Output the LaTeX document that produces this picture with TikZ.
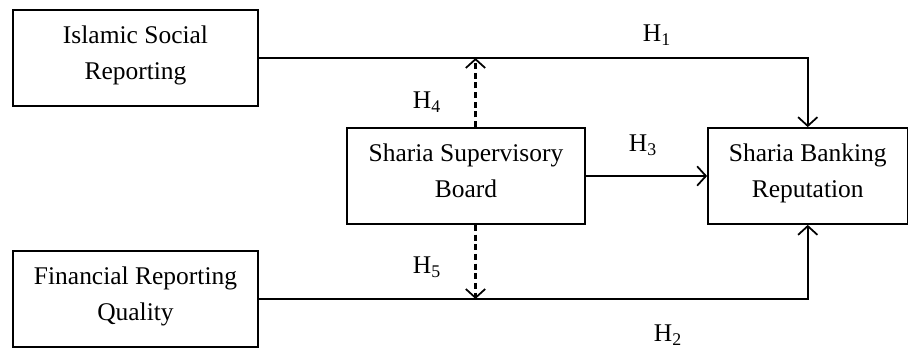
\documentclass[tikz,border=0pt]{standalone}
\usepackage{fontspec}
\setmainfont{Liberation Serif}
\usepackage{tikz}
\usetikzlibrary{positioning}
\usetikzlibrary{calc,arrows.meta}

\tikzset{
	varbox/.style={draw, line width=1pt, align=center, minimum height=1.92cm,
		text depth=0.22cm, font=\fontsize{14.5}{20.5}\selectfont},
	hyp/.style={font=\fontsize{14.5}{17}\selectfont},
	link/.style={line width=1pt, -{Straight Barb[length=5pt,width=11pt,line width=1pt]}},
	moderate/.style={link, line width=1.3pt, dash pattern=on 3.5pt off 2pt},
}

\begin{document}
\begin{tikzpicture}

	\useasboundingbox (0,0) rectangle (18.18,6.98);

	% the four variables
	\node[varbox, minimum width=4.9cm] (ISR) at (2.71,5.82) {Islamic Social\\Reporting};
	\node[varbox, minimum width=4.9cm] (FRQ) at (2.71,1.00) {Financial Reporting\\Quality};
	\node[varbox, minimum width=4.76cm] (SSB) at (9.32,3.46) {Sharia Supervisory\\Board};
	\node[varbox, minimum width=3.99cm] (SBR) at (16.155,3.46) {Sharia Banking\\Reputation};

	% corners of the direct paths and the moderating end points
	\coordinate (K1) at (SBR.north |- ISR.east);
	\coordinate (K2) at (SBR.south |- FRQ.east);
	\coordinate (M4) at (9.51,5.82);
	\coordinate (M5) at (9.51,1.00);

	%%%%%%%%%%%%%%%%%%%%%%%%%%%%%%%%%%%%%%%%%%%%%%%%%%%%%%%%%
	\draw[link] (ISR.east) -- (K1) -- (SBR.north);
	\draw[link] (FRQ.east) -- (K2) -- (SBR.south);
	\draw[link] (SSB.east) -- (SBR.west);

	% moderation: dashed
	\draw[moderate] (SSB.north -| M4) -- (M4);
	\draw[moderate] (SSB.south -| M5) -- (M5);

	% hypotheses
	\node[hyp] (H1) at (13.14,6.28) {H\textsubscript{1}};
	\node[hyp] (H2) at (13.36,0.27) {H\textsubscript{2}};
	\node[hyp] (H3) at (12.86,4.08) {H\textsubscript{3}};
	\node[hyp] (H4) at (8.54,4.94) {H\textsubscript{4}};
	\node[hyp] (H5) at (8.54,1.64) {H\textsubscript{5}};

\end{tikzpicture}
\end{document}
